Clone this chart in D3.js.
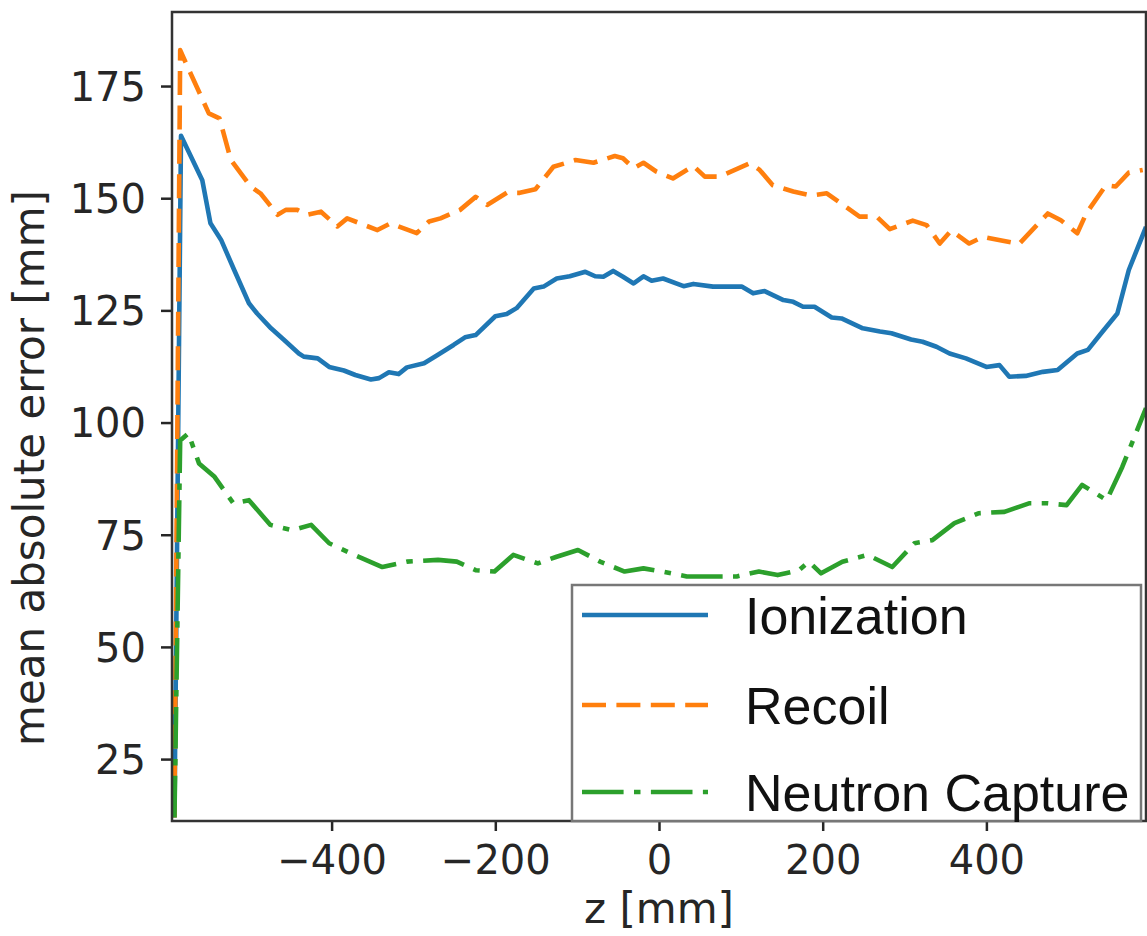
<!DOCTYPE html>
<html>
<head>
<meta charset="utf-8">
<script src="https://cdn.jsdelivr.net/npm/d3@7"></script>
<style>
    body { margin: 0; background: #fff; }
    .axis text { font-family: "DejaVu Sans", sans-serif; font-size: 40px; fill: #262626; }
    .axis line { stroke: #262626; stroke-width: 2.5; }
    .label { font-family: "DejaVu Sans", sans-serif; font-size: 42px; fill: #262626; }
    .legend text { font-family: "Liberation Sans", Arial, sans-serif; font-size: 52px; fill: #111; }
</style>
</head>
<body>
<div id="chart"></div>
<script>
// mean absolute error vs z
let ionZ = [-592, -584, -558, -548, -535, -519, -501, -491, -474, -458, -440, -434, -417, -403, -385, -371,
    -352, -342, -330, -318, -308, -287, -271, -251, -237, -224, -200, -186, -174, -153, -141, -125, -109, -90,
    -78, -68, -56, -44, -31, -19, -9, 5, 30, 42, 66, 101, 115, 129, 152, 164, 176, 190, 211, 223, 249, 270,
    284, 308, 322, 339, 355, 375, 400, 416, 428, 448, 469, 487, 511, 524, 542, 560, 574, 595];
let ionMAE = [12, 163.9, 154.0, 144.4, 140.7, 134.0, 126.6, 124.3, 121.0, 118.4, 115.4, 114.7, 114.3, 112.4,
    111.6, 110.6, 109.6, 109.9, 111.2, 110.8, 112.3, 113.2, 115.0, 117.3, 119.0, 119.5, 123.7, 124.2, 125.5,
    129.9, 130.3, 132.1, 132.6, 133.6, 132.6, 132.5, 133.8, 132.5, 131.0, 132.6, 131.6, 132.1, 130.4, 130.9,
    130.3, 130.3, 128.8, 129.3, 127.3, 126.9, 125.8, 125.8, 123.4, 123.2, 121.0, 120.3, 119.9, 118.5, 118.0,
    116.9, 115.4, 114.3, 112.4, 112.8, 110.2, 110.4, 111.3, 111.7, 115.4, 116.2, 120.3, 124.3, 134.0, 143.6];

let recoilZ = [-592, -585, -576, -550, -537, -523, -499, -487, -466, -456, -442, -430, -413, -393, -381, -344,
    -328, -296, -281, -267, -243, -224, -210, -186, -170, -151, -129, -102, -80, -54, -44, -31, -19, -3, 17,
    42, 56, 74, 111, 123, 139, 164, 186, 205, 245, 266, 282, 310, 327, 343, 357, 379, 396, 420, 440, 475,
    491, 511, 522, 546, 558, 574, 591];
let recoilMAE = [12, 183.0, 179.3, 168.9, 167.8, 158.5, 152.6, 151.1, 146.3, 147.4, 147.4, 146.3, 147.0,
    143.7, 145.5, 142.9, 144.4, 142.2, 144.8, 145.5, 147.4, 150.3, 148.5, 151.2, 151.2, 152.0, 157.0, 158.5,
    157.9, 159.4, 158.9, 156.7, 157.9, 155.9, 154.4, 157.2, 154.8, 154.8, 157.8, 156.3, 152.9, 151.5, 150.6,
    151.1, 145.9, 145.9, 143.1, 145.0, 144.0, 139.9, 142.8, 139.9, 141.4, 140.5, 139.8, 146.6, 145.1, 142.2,
    146.6, 152.9, 152.6, 155.7, 156.3];

let captureZ = [-592, -585, -575, -562, -543, -520, -501, -475, -448, -425, -403, -376, -338, -308, -270,
    -247, -224, -201, -178, -148, -125, -99, -72, -42, -19, 4, 34, 65, 95, 122, 145, 171, 183, 198, 224,
    255, 285, 312, 334, 361, 391, 422, 452, 475, 498, 517, 547, 566, 595];
let captureMAE = [12, 96.0, 97.6, 90.9, 87.9, 82.0, 82.7, 77.2, 76.0, 77.2, 73.1, 70.8, 67.8, 69.0, 69.4,
    69.0, 67.1, 66.8, 70.5, 68.6, 70.1, 71.6, 69.0, 66.8, 67.5, 66.8, 65.7, 65.7, 65.7, 66.8, 66.0, 67.1,
    69.0, 66.4, 69.0, 70.5, 67.8, 73.1, 73.8, 77.6, 79.8, 80.1, 82.0, 82.0, 81.6, 86.1, 82.7, 90.1, 103.2];

let seriesNames = ["Ionization", "Recoil", "Neutron Capture"];
let xTicks = [-400, -200, 0, 200, 400];
let yTicks = [25, 50, 75, 100, 125, 150, 175];

let width = 1147
let height = 936

// plot area edges in px
let plotLeft = 172, plotRight = 1146, plotTop = 12, plotBottom = 821;

let x = d3.scaleLinear().domain([-595, 595]).range([plotLeft, plotRight]);
let y = d3.scaleLinear().domain([11.2, 191.5]).range([plotBottom, plotTop]);

let series = [
    {name: seriesNames[0], z: ionZ, v: ionMAE, color: "#1f77b4", dash: null},
    {name: seriesNames[1], z: recoilZ, v: recoilMAE, color: "#ff7f0e", dash: "24,10.4"},
    {name: seriesNames[2], z: captureZ, v: captureMAE, color: "#2ca02c", dash: "41.6,10.4,6.5,10.4"}
];

let svg = d3.select("#chart").append("svg")
    .attr("width", width)
    .attr("height", height);

svg.append("rect")
    .attr("width", width)
    .attr("height", height)
    .attr("fill", "#fff");

svg.append("clipPath")
    .attr("id", "plotclip")
    .append("rect")
    .attr("x", plotLeft)
    .attr("y", plotTop)
    .attr("width", plotRight - plotLeft)
    .attr("height", plotBottom - plotTop);

// axes
let xAxis = svg.append("g")
    .attr("class", "axis")
    .attr("transform", "translate(0," + plotBottom + ")")
    .call(d3.axisBottom(x).tickValues(xTicks).tickSize(10).tickPadding(15));
xAxis.select(".domain").remove();

let yAxis = svg.append("g")
    .attr("class", "axis")
    .attr("transform", "translate(" + plotLeft + ",0)")
    .call(d3.axisLeft(y).tickValues(yTicks).tickSize(11).tickPadding(15));
yAxis.select(".domain").remove();
yAxis.selectAll("text").attr("dy", "0.36em");

// lines
let line = d3.line()
    .x(d => x(d[0]))
    .y(d => y(d[1]));

let linegroup = svg.append("g")
    .attr("clip-path", "url(#plotclip)");

linegroup.selectAll("path")
    .data(series)
    .enter().append("path")
    .attr("d", d => line(d.z.map((z, i) => [z, d.v[i]])))
    .attr("fill", "none")
    .attr("stroke", d => d.color)
    .attr("stroke-width", 4.6)
    .attr("stroke-linejoin", "round")
    .attr("stroke-dasharray", d => d.dash);

// frame
svg.append("rect")
    .attr("x", plotLeft)
    .attr("y", plotTop)
    .attr("width", plotRight - plotLeft)
    .attr("height", plotBottom - plotTop)
    .attr("fill", "none")
    .attr("stroke", "#333")
    .attr("stroke-width", 2.5);

// axis labels
svg.append("text")
    .attr("class", "label")
    .attr("x", x(0))
    .attr("y", 923)
    .attr("text-anchor", "middle")
    .text("z [mm]");

svg.append("text")
    .attr("class", "label")
    .attr("transform", "translate(44," + ((188 + 748) / 2) + ") rotate(-90)")
    .attr("text-anchor", "middle")
    .text("mean absolute error [mm]");

// legend
let legend = svg.append("g")
    .attr("class", "legend");

legend.append("rect")
    .attr("x", 572)
    .attr("y", 585)
    .attr("width", 1141 - 572)
    .attr("height", plotBottom - 585)
    .attr("fill", "#fff")
    .attr("stroke", "#777")
    .attr("stroke-width", 2.5);

let rowY = [615, 705, 792];
let entries = legend.selectAll(".entry")
    .data(series)
    .enter().append("g")
    .attr("class", "entry")
    .attr("transform", (d, i) => "translate(0," + rowY[i] + ")");

entries.append("line")
    .attr("x1", 582)
    .attr("x2", 708)
    .attr("stroke", d => d.color)
    .attr("stroke-width", 4.6)
    .attr("stroke-dasharray", d => d.dash);

entries.append("text")
    .attr("x", 745)
    .attr("y", 19)
    .text(d => d.name);
</script>
</body>
</html>
